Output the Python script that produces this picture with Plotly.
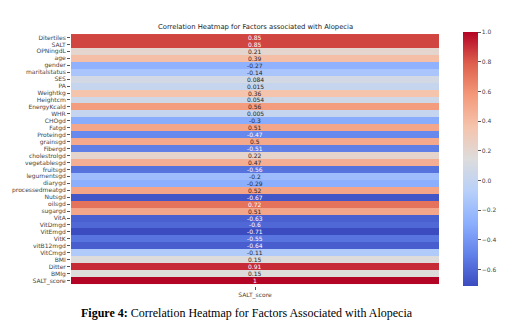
import plotly.graph_objects as go

factors = ["Ditertiles", "SALT", "OPNingdL", "age", "gender", "maritalstatus", "SES", "PA",
           "Weightkg", "Heightcm", "EnergyKcald", "WHR", "CHOgd", "Fatgd", "Proteingd",
           "grainsgd", "Fibergd", "cholestrolgd", "vegetablesgd", "fruitsgd", "legumentsgd",
           "diarygd", "processedmeatgd", "Nutsgd", "oilsgd", "sugargd", "VitA", "VitDmgd",
           "VitEmgd", "VitK", "vitB12mgd", "VitCmgd", "BMI", "Ditter", "BMIg", "SALT_score"]
salt_corr = [0.85, 0.85, 0.21, 0.39, -0.27, -0.14, 0.084, 0.015, 0.36, 0.054, 0.56, 0.005,
             -0.3, 0.51, -0.47, 0.5, -0.51, 0.22, 0.47, -0.56, -0.2, -0.29, 0.52, -0.67,
             0.72, 0.51, -0.63, -0.6, -0.71, -0.55, -0.64, -0.11, 0.15, 0.91, 0.15, 1.0]
column = ["SALT_score"]
cbar_ticks = [-0.6, -0.4, -0.2, 0.0, 0.2, 0.4, 0.6, 0.8, 1.0]

coolwarm = [
    [0.0, "rgb(59,76,192)"],
    [0.125, "rgb(98,130,234)"],
    [0.25, "rgb(141,176,254)"],
    [0.375, "rgb(184,208,249)"],
    [0.5, "rgb(221,220,220)"],
    [0.625, "rgb(245,196,173)"],
    [0.75, "rgb(244,154,123)"],
    [0.875, "rgb(222,96,77)"],
    [1.0, "rgb(180,4,38)"],
]

fig = go.Figure()
fig.add_trace(go.Heatmap(
    z=[[v] for v in salt_corr], x=column, y=factors,
    colorscale=coolwarm, zmin=min(salt_corr), zmax=max(salt_corr),
    xgap=0, ygap=0,
    colorbar=dict(
        x=1.064, xanchor="left", xpad=0, ypad=0, y=0, yanchor="bottom", len=1, lenmode="fraction",
        thickness=15, outlinewidth=0,
        tickvals=cbar_ticks, ticktext=[f"{t:.1f}".replace("-", "\u2212") for t in cbar_ticks],
        ticks="outside", ticklen=3, tickcolor="#555",
        tickfont=dict(family="DejaVu Sans", size=6, color="#444"),
    ),
))

def fmt(v):
    return f"{v:.2g}"

for f, v in zip(factors, salt_corr):
    col = "white" if (v >= 0.7 or v <= -0.4) else "#262626"
    fig.add_annotation(x=column[0], y=f, text=fmt(v), showarrow=False,
                       font=dict(family="DejaVu Sans", size=6, color=col))

fig.add_annotation(xref="paper", yref="paper", x=0.5, y=1.0, yshift=-1, yanchor="bottom",
                   text="Correlation Heatmap for Factors associated with Alopecia",
                   showarrow=False, font=dict(family="DejaVu Sans", size=6.8, color="#222"))

fig.add_annotation(xref="paper", yref="paper", x=0.022, xanchor="left", y=-0.105, yanchor="middle",
                   text="<b>Figure 4:</b> Correlation Heatmap for Factors Associated with Alopecia",
                   showarrow=False, font=dict(family="Liberation Serif", size=12, color="black"))

fig.update_layout(
    width=523, height=334,
    margin=dict(l=66, r=84, t=32, b=48),
    plot_bgcolor="white", paper_bgcolor="white",
    xaxis=dict(showgrid=False, zeroline=False, ticks="outside", ticklen=3, tickcolor="#555",
               tickfont=dict(family="DejaVu Sans", size=6, color="#444")),
    yaxis=dict(autorange="reversed", showgrid=False, zeroline=False, ticks="outside", ticklen=3,
               tickcolor="#555", dtick=1,
               tickfont=dict(family="DejaVu Sans", size=6, color="#444")),
)

fig.write_html("out.html")
